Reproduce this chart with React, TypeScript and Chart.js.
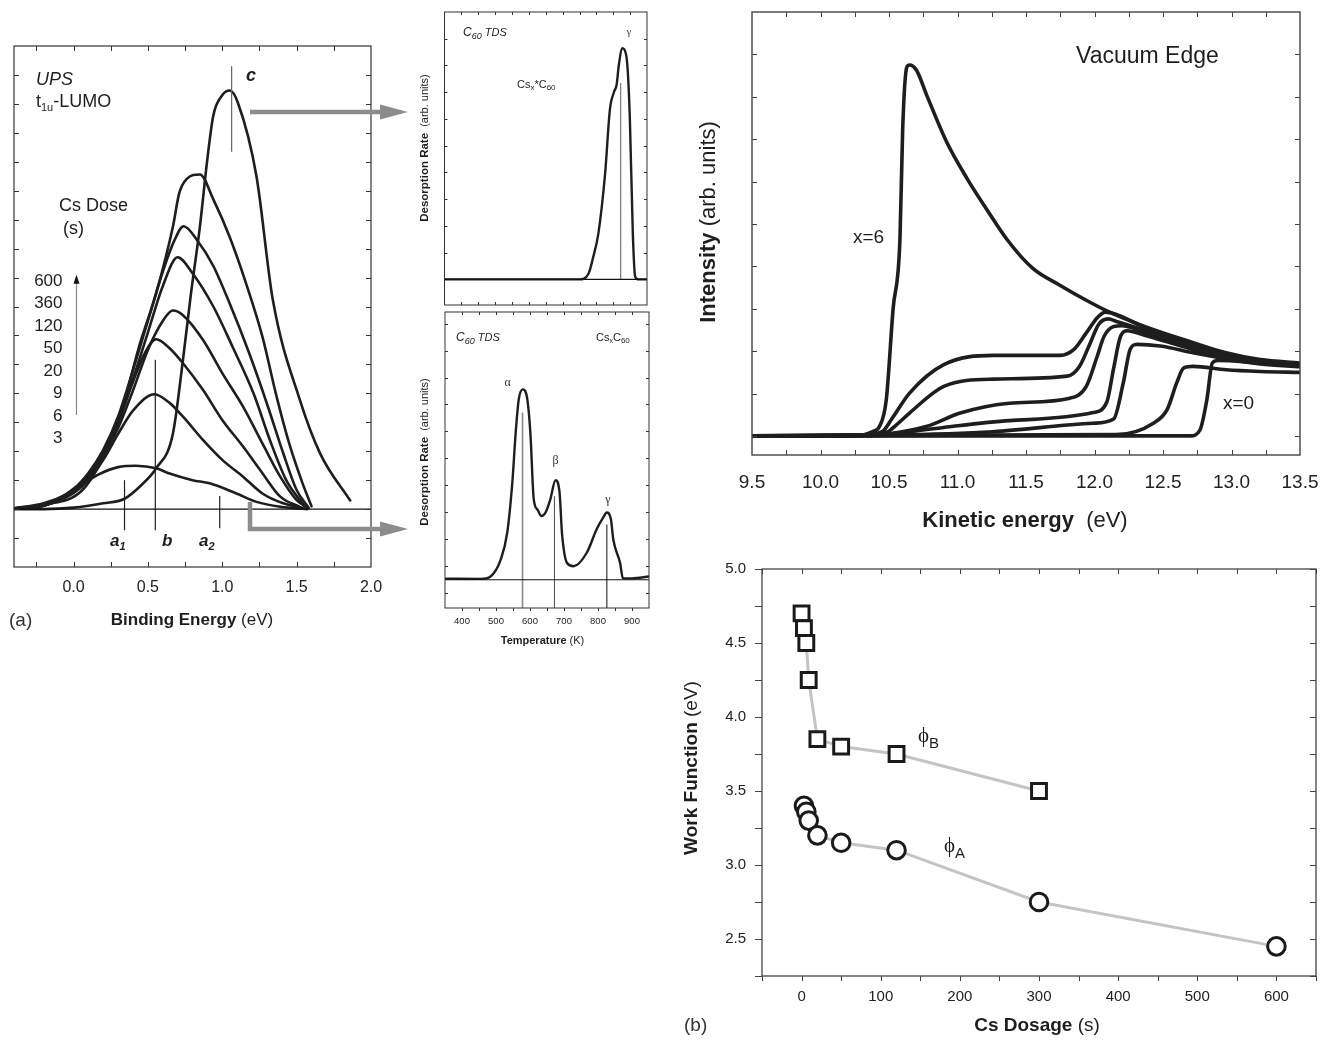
import React, { useEffect, useRef } from 'react';
import { Chart, registerables } from 'chart.js';

Chart.register(...registerables);

type P = [number, number];
const FF = '"Liberation Sans", Arial, Helvetica, sans-serif';
const FS = '"Liberation Serif", "DejaVu Serif", serif';
const INK = '#1e1e1e';
const ARROW = '#8c8c8c';

// ---------------- (a) UPS t1u-LUMO ----------------
const UPS_X_LABELS = [0, 0.5, 1.0, 1.5, 2.0];
const UPS_X_TICKS = [-0.25, 0, 0.25, 0.5, 0.75, 1.0, 1.25, 1.5, 1.75];
const UPS_Y_TICKS = [-1, 0, 1, 2, 3, 4, 5, 6, 7, 8, 9, 10, 11, 12, 13, 14, 15];
const UPS_DOSES = ['600', '360', '120', '50', '20', '9', '6', '3'];
const UPS_DOSE_3: P[] = [[-0.4, 0.03], [-0.2, 0.2], [-0.05, 0.5], [0.06, 0.85], [0.17, 1.2], [0.3, 1.45], [0.42, 1.5], [0.556, 1.41], [0.646, 1.23], [0.8, 1.0], [0.915, 0.89], [1.095, 0.54], [1.23, 0.25], [1.39, 0.08], [1.57, 0.0]];
const UPS_DOSE_6: P[] = [[-0.4, 0.02], [-0.2, 0.12], [0.0, 0.55], [0.1, 1.0], [0.2, 1.7], [0.3, 2.6], [0.4, 3.4], [0.545, 3.97], [0.646, 3.67], [0.735, 3.2], [0.87, 2.39], [1.0, 1.7], [1.14, 1.12], [1.27, 0.54], [1.41, 0.2], [1.55, 0.03]];
const UPS_DOSE_9: P[] = [[-0.4, 0.02], [-0.2, 0.12], [0.0, 0.6], [0.1, 1.1], [0.2, 1.9], [0.3, 3.0], [0.4, 4.4], [0.48, 5.4], [0.556, 5.87], [0.646, 5.56], [0.736, 5.04], [0.87, 4.12], [1.0, 3.08], [1.14, 2.16], [1.27, 1.24], [1.39, 0.43], [1.52, 0.08]];
const UPS_DOSE_20: P[] = [[-0.4, 0.02], [-0.2, 0.12], [0.0, 0.6], [0.1, 1.1], [0.2, 1.85], [0.3, 2.8], [0.4, 4.1], [0.5, 5.5], [0.6, 6.5], [0.668, 6.86], [0.736, 6.7], [0.87, 5.85], [1.0, 4.7], [1.14, 3.54], [1.27, 2.27], [1.39, 1.12], [1.5, 0.31], [1.58, 0.03]];
const UPS_DOSE_50: P[] = [[-0.4, 0.02], [-0.2, 0.14], [0.0, 0.65], [0.1, 1.2], [0.2, 2.0], [0.3, 3.0], [0.4, 4.5], [0.5, 6.1], [0.6, 7.7], [0.7, 8.7], [0.8, 8.15], [0.94, 7.0], [1.07, 5.6], [1.21, 4.0], [1.32, 2.39], [1.43, 1.0], [1.55, 0.12]];
const UPS_DOSE_120: P[] = [[-0.4, 0.02], [-0.2, 0.15], [0.0, 0.7], [0.1, 1.25], [0.2, 2.05], [0.3, 3.2], [0.4, 4.8], [0.5, 6.5], [0.6, 8.2], [0.68, 9.3], [0.74, 9.77], [0.83, 9.3], [0.94, 8.4], [1.05, 7.1], [1.18, 5.4], [1.3, 3.65], [1.41, 1.93], [1.5, 0.66], [1.58, 0.05]];
const UPS_DOSE_360: P[] = [[-0.4, 0.03], [-0.2, 0.15], [0.06, 0.66], [0.22, 2.0], [0.33, 3.5], [0.44, 5.6], [0.556, 7.46], [0.67, 9.8], [0.71, 10.9], [0.76, 11.4], [0.85, 11.56], [0.94, 10.7], [1.05, 9.4], [1.16, 7.8], [1.27, 5.96], [1.36, 4.0], [1.45, 2.27], [1.54, 0.89], [1.6, 0.1]];
const UPS_DOSE_600: P[] = [[-0.4, 0.0], [-0.2, 0.0], [0.0, 0.05], [0.2, 0.2], [0.34, 0.35], [0.45, 0.8], [0.556, 1.41], [0.668, 2.6], [0.736, 5.16], [0.79, 7.46], [0.85, 9.77], [0.9, 12.1], [0.94, 13.6], [1.0, 14.3], [1.05, 14.46], [1.105, 14.04], [1.23, 11.5], [1.34, 7.23], [1.52, 3.8], [1.66, 1.9], [1.86, 0.3]];
const UPS_CURVES = [UPS_DOSE_3, UPS_DOSE_6, UPS_DOSE_9, UPS_DOSE_20, UPS_DOSE_50, UPS_DOSE_120, UPS_DOSE_360, UPS_DOSE_600];
const UPS_BASELINE: P[] = [[-0.4, 0], [2.0, 0]];
const UPS_MARK_X = [0.343, 0.55, 0.983, 1.063];
const UPS_MARK_LO = [-0.73, -0.73, -0.66, 12.35];
const UPS_MARK_HI = [1.0, 5.16, 0.45, 15.3];
const UPS_MARK_COLOR = ['#222', '#222', '#222', '#666'];

// ---------------- TDS ----------------
const TDS_X_LABELS = [400, 500, 600, 700, 800, 900];
const TDS_X_TICKS = [400, 450, 500, 550, 600, 650, 700, 750, 800, 850, 900];
const TDS_TOP_Y_TICKS = [1, 2, 3, 4, 5, 6, 7, 8, 9];
const TDS_BOT_Y_TICKS = [-0.5, 0.5, 1.5, 2.5, 3.5, 4.5, 5.5, 6.5, 7.5, 8.5, 9.5];
const TDS_TOP: P[] = [[350, 0], [750, 0], [777, 0.22], [790, 0.8], [806, 1.72], [826, 3.97], [840, 6.34], [852, 7.0], [860, 7.28], [866, 7.96], [876, 8.65], [889, 8.34], [899, 6.1], [908, 1.72], [915, 0.1], [925, 0], [950, 0]];
const TDS_BOTTOM: P[] = [[350, 0.04], [455, 0.03], [484, 0.12], [514, 0.75], [533, 1.74], [548, 3.6], [558, 5.47], [567, 6.7], [579, 7.06], [592, 6.7], [601, 5.47], [611, 2.99], [622, 2.6], [634, 2.36], [646, 2.5], [660, 2.99], [675, 3.69], [687, 3.23], [694, 1.74], [709, 0.62], [728, 0.5], [767, 1.0], [796, 1.87], [815, 2.3], [826, 2.49], [838, 2.24], [845, 1.49], [865, 0.62], [873, 0.06], [900, 0.05], [950, 0.12]];
const TDS_TOP_MARK = { x: 872, lo: 0, hi: 7.34 };
const TDS_BOT_MARK_X = [578, 672, 826];
const TDS_BOT_MARK_HI = [6.2, 3.1, 2.05];
const TDS_BOT_MARK_COLOR = ['#888', '#555', '#222'];
const TDS_BOT_MARK_LABEL = ['α', 'β', 'γ'];

// ---------------- Vacuum edge ----------------
const VE_X_LABELS = [9.5, 10.0, 10.5, 11.0, 11.5, 12.0, 12.5, 13.0, 13.5];
const VE_X_TICKS = [9.75, 10.0, 10.25, 10.5, 10.75, 11.0, 11.25, 11.5, 11.75, 12.0, 12.25, 12.5, 12.75, 13.0, 13.25];
const VE_Y_TICKS = [0, 1, 2, 3, 4, 5, 6, 7, 8, 9];
const VE_X6: P[] = [[9.5, 0], [10.3, 0.02], [10.38, 0.1], [10.43, 0.22], [10.48, 0.85], [10.53, 3.0], [10.58, 4.64], [10.6, 7.25], [10.63, 8.7], [10.65, 8.75], [10.7, 8.63], [10.775, 8.04], [10.92, 6.94], [11.07, 6.07], [11.21, 5.36], [11.36, 4.64], [11.55, 3.95], [11.75, 3.55], [11.94, 3.2], [12.09, 2.95], [12.36, 2.59], [12.72, 2.2], [12.96, 1.96], [13.21, 1.8], [13.5, 1.72]];
const VE_B: P[] = [[9.5, 0], [10.3, 0.02], [10.45, 0.1], [10.52, 0.4], [10.65, 1.01], [10.9, 1.68], [11.26, 1.9], [11.75, 1.9], [11.85, 2.04], [11.94, 2.43], [12.02, 2.79], [12.08, 2.92], [12.36, 2.57], [12.72, 2.17], [12.96, 1.93], [13.21, 1.77], [13.5, 1.69]];
const VE_C: P[] = [[9.5, 0], [10.3, 0.02], [10.48, 0.08], [10.55, 0.25], [10.65, 0.54], [10.9, 1.17], [11.26, 1.34], [11.8, 1.41], [11.89, 1.64], [11.97, 2.2], [12.03, 2.63], [12.1, 2.76], [12.16, 2.7], [12.36, 2.5], [12.72, 2.12], [12.96, 1.9], [13.21, 1.75], [13.5, 1.67]];
const VE_D: P[] = [[9.5, 0], [10.3, 0.02], [10.5, 0.05], [10.77, 0.22], [11.02, 0.54], [11.38, 0.77], [11.82, 0.89], [11.94, 1.17], [12.02, 1.88], [12.07, 2.35], [12.14, 2.58], [12.2, 2.6], [12.36, 2.45], [12.72, 2.08], [12.96, 1.87], [13.21, 1.73], [13.5, 1.66]];
const VE_E: P[] = [[9.5, 0], [10.4, 0.02], [10.6, 0.08], [10.9, 0.2], [11.38, 0.36], [11.99, 0.55], [12.09, 0.8], [12.14, 1.6], [12.19, 2.35], [12.24, 2.48], [12.36, 2.38], [12.72, 2.04], [12.96, 1.85], [13.21, 1.72], [13.5, 1.65]];
const VE_F: P[] = [[9.5, 0], [10.5, 0.02], [11.26, 0.1], [11.99, 0.3], [12.14, 0.4], [12.21, 1.25], [12.26, 2.04], [12.31, 2.16], [12.48, 2.12], [12.72, 1.96], [12.96, 1.82], [13.21, 1.7], [13.5, 1.63]];
const VE_G: P[] = [[9.5, 0], [12.16, 0.03], [12.43, 0.3], [12.53, 0.62], [12.6, 1.25], [12.65, 1.6], [12.72, 1.64], [12.96, 1.56], [13.21, 1.52], [13.5, 1.5]];
const VE_X0: P[] = [[9.5, 0], [12.7, 0], [12.77, 0.14], [12.82, 0.85], [12.86, 1.72], [12.9, 1.78], [13.21, 1.72], [13.5, 1.67]];
const VE_CURVES = [VE_X6, VE_B, VE_C, VE_D, VE_E, VE_F, VE_G, VE_X0];

// ---------------- (b) Work function ----------------
const WF_X_LABELS = [0, 100, 200, 300, 400, 500, 600];
const WF_X_TICKS = [-50, 0, 50, 100, 150, 200, 250, 300, 350, 400, 450, 500, 550, 600, 650];
const WF_Y_LABELS = [2.5, 3.0, 3.5, 4.0, 4.5, 5.0];
const WF_Y_TICKS = [2.25, 2.5, 2.75, 3.0, 3.25, 3.5, 3.75, 4.0, 4.25, 4.5, 4.75, 5.0];
const WF_DOSE_B = [0, 3, 6, 9, 20, 50, 120, 300];
const WF_PHI_B = [4.7, 4.6, 4.5, 4.25, 3.85, 3.8, 3.75, 3.5];
const WF_DOSE_A = [3, 6, 9, 20, 50, 120, 300, 600];
const WF_PHI_A = [3.4, 3.36, 3.3, 3.2, 3.15, 3.1, 2.75, 2.45];

// ---------------- helpers ----------------
type Seg = { t: string; f: string; dy?: number };

function drawRich(ctx: CanvasRenderingContext2D, x: number, y: number, segs: Seg[], align = 'left', color = INK, rot = 0) {
  ctx.save();
  ctx.translate(x, y);
  if (rot) ctx.rotate(rot);
  let w = 0;
  for (const s of segs) { ctx.font = s.f; w += ctx.measureText(s.t).width; }
  let cx = align === 'center' ? -w / 2 : align === 'right' ? -w : 0;
  ctx.textBaseline = 'middle';
  ctx.textAlign = 'left';
  ctx.fillStyle = color;
  for (const s of segs) {
    ctx.font = s.f;
    ctx.fillText(s.t, cx, s.dy || 0);
    cx += ctx.measureText(s.t).width;
  }
  ctx.restore();
}

function frame(chart: any, color = '#333', lw = 1.2) {
  const { ctx, chartArea: a } = chart;
  ctx.save();
  ctx.strokeStyle = color;
  ctx.lineWidth = lw;
  ctx.strokeRect(a.left, a.top, a.right - a.left, a.bottom - a.top);
  ctx.restore();
}

// len > 0 : inward ; len < 0 : outward
function ticksX(chart: any, values: number[], side: 'top' | 'bottom', len: number, color = '#333', lw = 1) {
  const { ctx, chartArea: a } = chart;
  const sx = chart.scales.x;
  ctx.save();
  ctx.strokeStyle = color;
  ctx.lineWidth = lw;
  ctx.beginPath();
  for (const v of values) {
    const px = Math.round(sx.getPixelForValue(v)) + 0.5;
    const y0 = side === 'bottom' ? a.bottom : a.top;
    const dir = side === 'bottom' ? -1 : 1;
    ctx.moveTo(px, y0);
    ctx.lineTo(px, y0 + dir * len);
  }
  ctx.stroke();
  ctx.restore();
}

function ticksY(chart: any, values: number[], side: 'left' | 'right', len: number, color = '#333', lw = 1) {
  const { ctx, chartArea: a } = chart;
  const sy = chart.scales.y;
  ctx.save();
  ctx.strokeStyle = color;
  ctx.lineWidth = lw;
  ctx.beginPath();
  for (const v of values) {
    const py = Math.round(sy.getPixelForValue(v)) + 0.5;
    const x0 = side === 'left' ? a.left : a.right;
    const dir = side === 'left' ? 1 : -1;
    ctx.moveTo(x0, py);
    ctx.lineTo(x0 + dir * len, py);
  }
  ctx.stroke();
  ctx.restore();
}

function arrowHead(ctx: CanvasRenderingContext2D, tipX: number, tipY: number, len: number, half: number, color: string, dirUp = false) {
  ctx.save();
  ctx.fillStyle = color;
  ctx.beginPath();
  if (dirUp) {
    ctx.moveTo(tipX, tipY);
    ctx.lineTo(tipX - half, tipY + len);
    ctx.lineTo(tipX + half, tipY + len);
  } else {
    ctx.moveTo(tipX, tipY);
    ctx.lineTo(tipX - len, tipY - half);
    ctx.lineTo(tipX - len, tipY + half);
  }
  ctx.closePath();
  ctx.fill();
  ctx.restore();
}

const curve = (pts: P[], color = INK, width = 2.4) => ({
  data: pts.map(([x, y]) => ({ x, y })),
  borderColor: color,
  borderWidth: width,
  pointRadius: 0,
  fill: false,
  tension: 0.4,
  cubicInterpolationMode: 'monotone',
  borderCapStyle: 'round',
  borderJoinStyle: 'round',
});

const segment = (x: number, y0: number, y1: number, color: string, width: number) => ({
  data: [{ x, y: y0 }, { x, y: y1 }],
  borderColor: color,
  borderWidth: width,
  pointRadius: 0,
  fill: false,
  tension: 0,
});

const hiddenAxis = (min: number, max: number) => ({ type: 'linear', min, max, display: false });

const labelAxis = (min: number, max: number, labels: number[], size: number, padding: number, fixed: number, fmt: (v: number) => string, horizontal = true) => ({
  type: 'linear',
  min,
  max,
  grid: { display: false, drawTicks: false },
  border: { display: false },
  ticks: {
    font: { family: FF, size },
    color: '#222',
    padding,
    autoSkip: false,
    maxRotation: 0,
    callback: (v: any) => fmt(Number(v)),
  },
  afterBuildTicks: (s: any) => { s.ticks = labels.map((value) => ({ value })); },
  afterFit: (s: any) => {
    if (horizontal) { s.height = fixed; s.paddingLeft = 0; s.paddingRight = 0; }
    else { s.width = fixed; s.paddingTop = 0; s.paddingBottom = 0; }
  },
});

const baseOpts = (padding: any, scales: any) => ({
  responsive: false,
  animation: false,
  devicePixelRatio: 1,
  events: [],
  layout: { padding },
  plugins: { legend: { display: false }, tooltip: { enabled: false } },
  scales,
});

// ---------------- chart configs ----------------
function upsConfig(): any {
  const datasets: any[] = [curve(UPS_BASELINE, '#111', 1.2)];
  UPS_MARK_X.forEach((x, i) => datasets.push(segment(x, UPS_MARK_LO[i], UPS_MARK_HI[i], UPS_MARK_COLOR[i], 1.2)));
  UPS_CURVES.forEach((c) => datasets.push(curve(c, INK, 2.6)));
  return {
    type: 'line',
    data: { datasets },
    options: baseOpts({ left: 14, top: 46, right: 49, bottom: 0 }, {
      x: labelAxis(-0.4, 2.0, UPS_X_LABELS, 16, 11, 73, (v) => v.toFixed(1)),
      y: hiddenAxis(-2, 16),
    }),
    plugins: [{
      id: 'upsDecor',
      afterDraw(chart: any) {
        const ctx = chart.ctx as CanvasRenderingContext2D;
        const sx = chart.scales.x, sy = chart.scales.y;
        frame(chart);
        ticksX(chart, UPS_X_TICKS, 'bottom', 5);
        ticksX(chart, UPS_X_TICKS, 'top', 5);
        ticksY(chart, UPS_Y_TICKS, 'left', 5);
        ticksY(chart, UPS_Y_TICKS, 'right', 5);
        drawRich(ctx, 36, 80, [{ t: 'UPS', f: `italic 18px ${FF}` }]);
        drawRich(ctx, 36, 102, [{ t: 't', f: `18px ${FF}` }, { t: '1u', f: `11px ${FF}`, dy: 6 }, { t: '-LUMO', f: `18px ${FF}` }]);
        drawRich(ctx, 246, 76, [{ t: 'c', f: `bold italic 18px ${FF}` }]);
        drawRich(ctx, 59, 206, [{ t: 'Cs Dose', f: `18px ${FF}` }]);
        drawRich(ctx, 63, 229, [{ t: '(s)', f: `18px ${FF}` }]);
        UPS_DOSES.forEach((d, i) => drawRich(ctx, 62.5, 281 + i * 22.5, [{ t: d, f: `17px ${FF}` }], 'right'));
        // dose arrow
        const ax = sx.getPixelForValue(0.02);
        ctx.save();
        ctx.strokeStyle = '#888';
        ctx.lineWidth = 1.2;
        ctx.beginPath();
        ctx.moveTo(ax, sy.getPixelForValue(3.25));
        ctx.lineTo(ax, sy.getPixelForValue(7.85));
        ctx.stroke();
        ctx.restore();
        arrowHead(ctx, ax, sy.getPixelForValue(8.1), 9, 3, '#111', true);
        // marker labels
        drawRich(ctx, 110, 541, [{ t: 'a', f: `bold italic 17px ${FF}` }, { t: '1', f: `bold italic 11px ${FF}`, dy: 6 }]);
        drawRich(ctx, 162, 541, [{ t: 'b', f: `bold italic 17px ${FF}` }]);
        drawRich(ctx, 199, 541, [{ t: 'a', f: `bold italic 17px ${FF}` }, { t: '2', f: `bold italic 11px ${FF}`, dy: 6 }]);
        // axis title
        drawRich(ctx, 192, 620, [{ t: 'Binding Energy', f: `bold 17px ${FF}` }, { t: ' (eV)', f: `17px ${FF}` }], 'center');
        drawRich(ctx, 9, 621, [{ t: '(a)', f: `19px ${FF}` }], 'left', '#333');
        // grey arrows towards TDS panels
        ctx.save();
        ctx.strokeStyle = ARROW;
        ctx.lineWidth = 4.5;
        ctx.beginPath();
        ctx.moveTo(250, 112);
        ctx.lineTo(384, 112);
        ctx.moveTo(250, 502);
        ctx.lineTo(250, 529);
        ctx.lineTo(384, 529);
        ctx.stroke();
        ctx.restore();
        arrowHead(ctx, 408, 112, 28, 7.5, ARROW);
        arrowHead(ctx, 408, 529, 28, 7.5, ARROW);
      },
    }],
  };
}

function tdsTopConfig(): any {
  const datasets: any[] = [
    curve([[350, 0], [950, 0]], '#111', 1.1),
    segment(TDS_TOP_MARK.x, TDS_TOP_MARK.lo, TDS_TOP_MARK.hi, '#777', 1.2),
    curve(TDS_TOP, INK, 2.4),
  ];
  return {
    type: 'line',
    data: { datasets },
    options: baseOpts({ left: 44.5, top: 12, right: 13, bottom: 5 }, {
      x: hiddenAxis(350, 950),
      y: hiddenAxis(-0.96, 10),
    }),
    plugins: [{
      id: 'tdsTopDecor',
      afterDraw(chart: any) {
        const ctx = chart.ctx as CanvasRenderingContext2D;
        frame(chart, '#333', 1);
        ticksX(chart, TDS_X_TICKS, 'top', 3);
        ticksX(chart, TDS_X_TICKS, 'bottom', 3);
        ticksY(chart, TDS_TOP_Y_TICKS, 'left', 3);
        ticksY(chart, TDS_TOP_Y_TICKS, 'right', 3);
        drawRich(ctx, 63, 33, [{ t: 'C', f: `italic 12px ${FF}` }, { t: '60', f: `italic 9px ${FF}`, dy: 3 }, { t: ' TDS', f: `italic 11px ${FF}` }]);
        drawRich(ctx, 117, 85, [{ t: 'Cs', f: `11px ${FF}` }, { t: 'x', f: `8px ${FF}`, dy: 3 }, { t: '*C', f: `11px ${FF}` }, { t: '60', f: `8px ${FF}`, dy: 3 }]);
        drawRich(ctx, 229, 32, [{ t: 'γ', f: `11px ${FS}` }], 'center', '#444');
        drawRich(ctx, 25, 148, [{ t: 'Desorption Rate', f: `bold 11.5px ${FF}` }, { t: '  (arb. units)', f: `11px ${FF}` }], 'center', INK, -Math.PI / 2);
      },
    }],
  };
}

function tdsBottomConfig(): any {
  const datasets: any[] = [curve([[350, 0], [950, 0]], '#111', 1.1)];
  TDS_BOT_MARK_X.forEach((x, i) => datasets.push(segment(x, -1.05, TDS_BOT_MARK_HI[i], TDS_BOT_MARK_COLOR[i], i === 0 ? 1.6 : 1.1)));
  datasets.push(curve(TDS_BOTTOM, INK, 2.4));
  return {
    type: 'line',
    data: { datasets },
    options: baseOpts({ left: 45, top: 12, right: 11, bottom: 0 }, {
      x: labelAxis(350, 950, TDS_X_LABELS, 9.5, 8, 52, (v) => String(v)),
      y: hiddenAxis(-1.05, 9.93),
    }),
    plugins: [{
      id: 'tdsBotDecor',
      afterDraw(chart: any) {
        const ctx = chart.ctx as CanvasRenderingContext2D;
        const sx = chart.scales.x;
        frame(chart, '#333', 1);
        ticksX(chart, TDS_X_TICKS, 'top', 3);
        ticksX(chart, TDS_X_TICKS, 'bottom', -3);
        ticksY(chart, TDS_BOT_Y_TICKS, 'left', 3);
        ticksY(chart, TDS_BOT_Y_TICKS, 'right', 3);
        drawRich(ctx, 56, 38, [{ t: 'C', f: `italic 12px ${FF}` }, { t: '60', f: `italic 9px ${FF}`, dy: 3 }, { t: ' TDS', f: `italic 11px ${FF}` }]);
        drawRich(ctx, 196, 38, [{ t: 'Cs', f: `11px ${FF}` }, { t: 'x', f: `7px ${FF}`, dy: 3 }, { t: 'C', f: `11px ${FF}` }, { t: '60', f: `8px ${FF}`, dy: 3 }]);
        const lblY = [83, 161, 200];
        TDS_BOT_MARK_X.forEach((x, i) => {
          const px = sx.getPixelForValue(x) + (i === 0 ? -15 : 1);
          drawRich(ctx, px, lblY[i], [{ t: TDS_BOT_MARK_LABEL[i], f: `12px ${FS}` }], 'center', '#333');
        });
        drawRich(ctx, 142.5, 341, [{ t: 'Temperature', f: `bold 11px ${FF}` }, { t: ' (K)', f: `11px ${FF}` }], 'center');
        drawRich(ctx, 25, 152, [{ t: 'Desorption Rate', f: `bold 11.5px ${FF}` }, { t: '  (arb. units)', f: `11px ${FF}` }], 'center', INK, -Math.PI / 2);
      },
    }],
  };
}

function vacuumConfig(): any {
  const datasets: any[] = VE_CURVES.map((c) => curve(c, INK, 3.6));
  return {
    type: 'line',
    data: { datasets },
    options: baseOpts({ left: 72, top: 12, right: 31, bottom: 0 }, {
      x: labelAxis(9.5, 13.5, VE_X_LABELS, 19, 16, 85, (v) => v.toFixed(1)),
      y: hiddenAxis(-0.45, 10.0),
    }),
    plugins: [{
      id: 'veDecor',
      afterDraw(chart: any) {
        const ctx = chart.ctx as CanvasRenderingContext2D;
        frame(chart, '#444', 1.4);
        ticksX(chart, VE_X_TICKS, 'bottom', 5, '#444');
        ticksX(chart, VE_X_TICKS, 'top', 5, '#444');
        ticksY(chart, VE_Y_TICKS, 'left', 5, '#444');
        ticksY(chart, VE_Y_TICKS, 'right', 5, '#444');
        drawRich(ctx, 396, 57, [{ t: 'Vacuum Edge', f: `23px ${FF}` }]);
        drawRich(ctx, 173, 238, [{ t: 'x=6', f: `19px ${FF}` }]);
        drawRich(ctx, 543, 404, [{ t: 'x=0', f: `19px ${FF}` }]);
        drawRich(ctx, 345, 521, [{ t: 'Kinetic energy', f: `bold 22px ${FF}` }, { t: '  (eV)', f: `22px ${FF}` }], 'center');
        drawRich(ctx, 29, 222, [{ t: 'Intensity', f: `bold 22px ${FF}` }, { t: ' (arb. units)', f: `22px ${FF}` }], 'center', INK, -Math.PI / 2);
      },
    }],
  };
}

function workConfig(): any {
  const mk = (xs: number[], ys: number[], style: string, r: number) => ({
    data: xs.map((x, i) => ({ x, y: ys[i] })),
    borderColor: '#c4c4c4',
    borderWidth: 3,
    pointStyle: style,
    pointRadius: r,
    pointBorderWidth: 3,
    pointBorderColor: '#1a1a1a',
    pointBackgroundColor: '#ffffff',
    tension: 0,
    fill: false,
  });
  return {
    type: 'line',
    data: { datasets: [mk(WF_DOSE_B, WF_PHI_B, 'rect', 10.5), mk(WF_DOSE_A, WF_PHI_A, 'circle', 8.8)] },
    options: {
      ...baseOpts({ left: 0, top: 29, right: 15, bottom: 0 }, {
        x: labelAxis(-50, 650, WF_X_LABELS, 15, 12, 65, (v) => String(v)),
        y: labelAxis(2.25, 5.0, WF_Y_LABELS, 15, 16, 82, (v) => v.toFixed(1), false),
      }),
    },
    plugins: [{
      id: 'wfDecor',
      afterDraw(chart: any) {
        const ctx = chart.ctx as CanvasRenderingContext2D;
        frame(chart, '#444', 1.3);
        ticksX(chart, WF_X_TICKS, 'bottom', -5, '#444');
        ticksX(chart, WF_X_TICKS, 'top', 5, '#444');
        ticksY(chart, WF_Y_TICKS, 'left', -7, '#444');
        ticksY(chart, WF_Y_TICKS, 'right', 6, '#444');
        drawRich(ctx, 238, 196, [{ t: 'ϕ', f: `21px ${FS}` }, { t: 'B', f: `15px ${FF}`, dy: 8 }]);
        drawRich(ctx, 264, 306, [{ t: 'ϕ', f: `21px ${FS}` }, { t: 'A', f: `15px ${FF}`, dy: 8 }]);
        drawRich(ctx, 357, 486, [{ t: 'Cs Dosage', f: `bold 19px ${FF}` }, { t: ' (s)', f: `19px ${FF}` }], 'center');
        drawRich(ctx, 4, 486, [{ t: '(b)', f: `19px ${FF}` }], 'left', '#333');
        drawRich(ctx, 12, 228, [{ t: 'Work Function', f: `bold 19px ${FF}` }, { t: ' (eV)', f: `19px ${FF}` }], 'center', INK, -Math.PI / 2);
      },
    }],
  };
}

// ---------------- components ----------------
function ChartCanvas({ left, top, width, height, make }: { left: number; top: number; width: number; height: number; make: () => any }) {
  const ref = useRef<HTMLCanvasElement | null>(null);
  useEffect(() => {
    if (!ref.current) return;
    const chart = new Chart(ref.current, make());
    return () => chart.destroy();
  }, []);
  return <canvas ref={ref} width={width} height={height} style={{ position: 'absolute', left, top, width, height }} />;
}

export default function App() {
  return (
    <div style={{ position: 'absolute', left: 0, top: 0, width: 1331, height: 1041, background: '#fff', overflow: 'hidden', fontFamily: FF }}>
      <ChartCanvas left={0} top={0} width={420} height={640} make={upsConfig} />
      <ChartCanvas left={400} top={0} width={260} height={310} make={tdsTopConfig} />
      <ChartCanvas left={400} top={300} width={260} height={360} make={tdsBottomConfig} />
      <ChartCanvas left={680} top={0} width={651} height={540} make={vacuumConfig} />
      <ChartCanvas left={680} top={540} width={651} height={501} make={workConfig} />
    </div>
  );
}
